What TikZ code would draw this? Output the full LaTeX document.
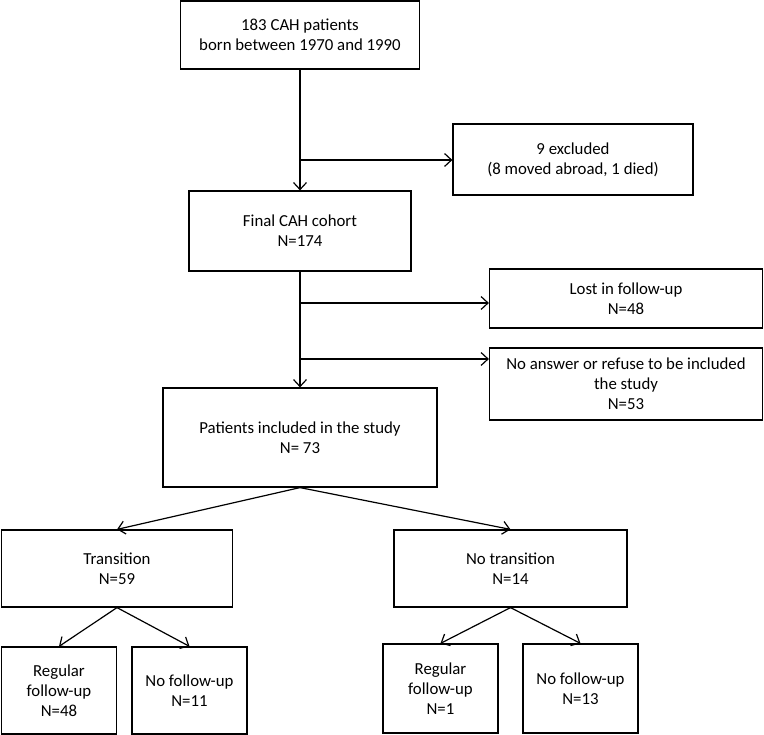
\documentclass[tikz,border=0pt]{standalone}
\usepackage{fontspec}
\setmainfont{Carlito}
\usetikzlibrary{arrows.meta}
\begin{document}
\begin{tikzpicture}[x=1pt, y=-1pt,
    box/.style={draw, line width=1.2pt, align=center, inner sep=0pt,
      font=\fontsize{16.8}{20}\selectfont}]
    \useasboundingbox (0,0) rectangle (764,735);
    \begin{scope}[every node/.style={box}]
      \node [minimum width=239pt, minimum height=68pt] (top) at (300,35)
        {183 CAH patients\\born between 1970 and 1990};
      \node [minimum width=240pt, minimum height=71pt] (excl) at (573,159.5)
        {9 excluded\\(8 moved abroad, 1 died)};
      \node [minimum width=222pt, minimum height=80pt] (final) at (300,231)
        {Final CAH cohort\\N=174};
      \node [minimum width=273pt, minimum height=59pt] (lost) at (626,298.5)
        {Lost in follow-up\\N=48};
      \node [minimum width=273pt, minimum height=72pt] (noans) at (626,384)
        {No answer or refuse to be included\\the study\\N=53};
      \node [minimum width=274pt, minimum height=99pt] (incl) at (300,437.5)
        {Patients included in the study\\N= 73};
      \node [minimum width=231pt, minimum height=77pt] (trans) at (117,568.5)
        {Transition\\N=59};
      \node [minimum width=233pt, minimum height=77pt] (notrans) at (510.5,568.5)
        {No transition\\N=14};
      \node [minimum width=115pt, minimum height=87pt] (reg1) at (59,690.5)
        {Regular\\follow-up\\N=48};
      \node [minimum width=115pt, minimum height=87pt] (nof1) at (189.5,690.5)
        {No follow-up\\N=11};
      \node [minimum width=115pt, minimum height=89pt] (reg2) at (440.5,688.5)
        {Regular\\follow-up\\N=1};
      \node [minimum width=115pt, minimum height=89pt] (nof2) at (580.5,688.5)
        {No follow-up\\N=13};
    \end{scope}
    \coordinate (b1) at (300,160);
    \coordinate (b2) at (300,303);
    \coordinate (b3) at (300,359);
    \begin{scope}[->, >={Straight Barb[length=7pt,width=13pt]}, line width=1.2pt]
      \draw (top) to (final);
      \draw (b1) to (b1 -| excl.west);
      \draw (final) to (incl);
      \draw (b2) to (b2 -| lost.west);
      \draw (b3) to (b3 -| noans.west);
      \draw (incl.south) to (trans.north);
      \draw (incl.south) to (notrans.north);
      \draw (trans.south) to (reg1.north);
      \draw (trans.south) to (nof1.north);
      \draw (notrans.south) to (reg2.north);
      \draw (notrans.south) to (nof2.north);
    \end{scope}
  \end{tikzpicture}
\end{document}
